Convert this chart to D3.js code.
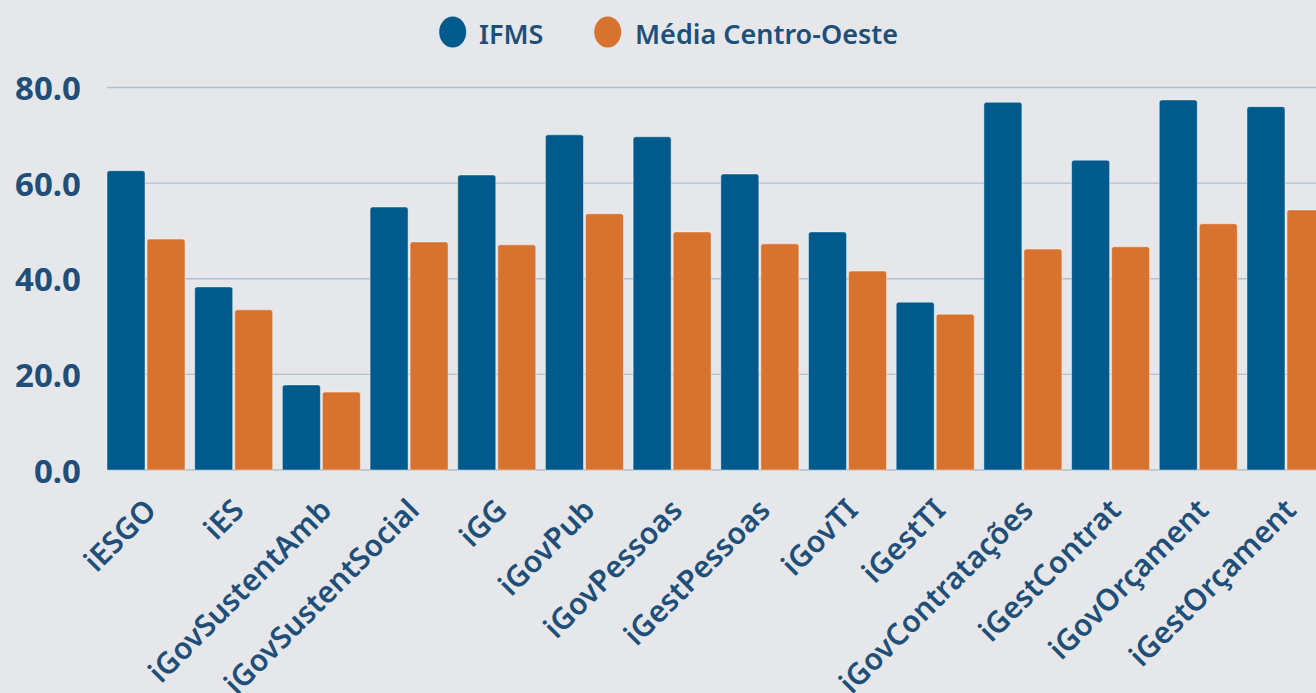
<!DOCTYPE html>
<html><head><meta charset="utf-8">
<script src="https://cdn.jsdelivr.net/npm/d3@7"></script>
<style>
html,body{margin:0;padding:0;background:#e5e7ea;overflow:hidden}
svg{display:block}
text{font-family:"Noto Sans","Open Sans",sans-serif}
</style></head><body>
<svg id="c" width="1316" height="693"></svg>
<script>
const categories = ["iESGO","iES","iGovSustentAmb","iGovSustentSocial","iGG","iGovPub","iGovPessoas","iGestPessoas","iGovTI","iGestTI","iGovContratações","iGestContrat","iGovOrçament","iGestOrçament"];
const seriesNames = ["IFMS","Média Centro-Oeste"];
const ifms = [62.6,38.3,17.8,55.0,61.7,70.1,69.7,61.9,49.8,35.1,76.9,64.8,77.4,76.0];
const mediaCO = [48.3,33.5,16.3,47.7,47.1,53.6,49.8,47.3,41.6,32.6,46.2,46.7,51.5,54.4];
const yTicks = [0,20,40,60,80];
const colors = ["#005b8c","#d8732f"];
const textColor = "#1f4f78";

const svg = d3.select("#c");
const data = categories.map((c,i)=>({cat:c, vals:[ifms[i], mediaCO[i]]}));

const y = d3.scaleLinear().domain([0,80]).range([470,87.5]);
const x0 = d3.scaleBand().domain(categories).range([107,1325]).paddingInner(0.11).paddingOuter(0).align(0);
const x1 = d3.scaleBand().domain([0,1]).range([0,x0.bandwidth()]).paddingInner(0.05).paddingOuter(0);

// gridlines
svg.append("g").selectAll("line").data(yTicks).join("line")
  .attr("x1",107).attr("x2",1316)
  .attr("y1",d=>y(d)).attr("y2",d=>y(d))
  .attr("stroke","#b3bfcb").attr("stroke-width",1.3);

// y tick labels
svg.append("g").selectAll("text").data(yTicks).join("text")
  .attr("x",81).attr("y",d=>y(d))
  .attr("text-anchor","end").attr("dominant-baseline","central")
  .attr("fill",textColor).attr("font-weight",700).attr("font-size",33)
  .text(d=>d.toFixed(1));

// bars
const g = svg.append("g").selectAll("g").data(data).join("g")
  .attr("transform",d=>`translate(${x0(d.cat)},0)`);
g.selectAll("path").data(d=>d.vals.map((v,k)=>({v,k}))).join("path")
  .attr("d",d=>{
    const xx=x1(d.k), w=x1.bandwidth(), top=y(d.v), bot=y(0), r=2.5;
    return `M${xx},${bot}V${top+r}Q${xx},${top} ${xx+r},${top}H${xx+w-r}Q${xx+w},${top} ${xx+w},${top+r}V${bot}Z`;
  })
  .attr("fill",d=>colors[d.k])
  .attr("stroke","rgba(255,255,255,0.55)").attr("stroke-width",0.8);

// x labels
svg.append("g").selectAll("text").data(categories).join("text")
  .attr("transform",d=>`translate(${x0(d)+x0.bandwidth()/2+12},512) rotate(-45)`)
  .attr("text-anchor","end")
  .attr("fill",textColor).attr("font-weight",600).attr("font-size",30)
  .text(d=>d);

// legend
const leg = [{name:seriesNames[0],cx:452.7,tx:479},{name:seriesNames[1],cx:607.7,tx:635}];
const lg = svg.append("g");
lg.selectAll("ellipse").data(leg).join("ellipse")
  .attr("cx",d=>d.cx).attr("cy",32).attr("rx",13.5).attr("ry",15.5)
  .attr("fill",(d,i)=>colors[i]);
lg.selectAll("text").data(leg).join("text")
  .attr("x",d=>d.tx).attr("y",33).attr("dominant-baseline","central")
  .attr("fill",textColor).attr("font-weight",600).attr("font-size",27)
  .text(d=>d.name);
</script>
</body></html>
